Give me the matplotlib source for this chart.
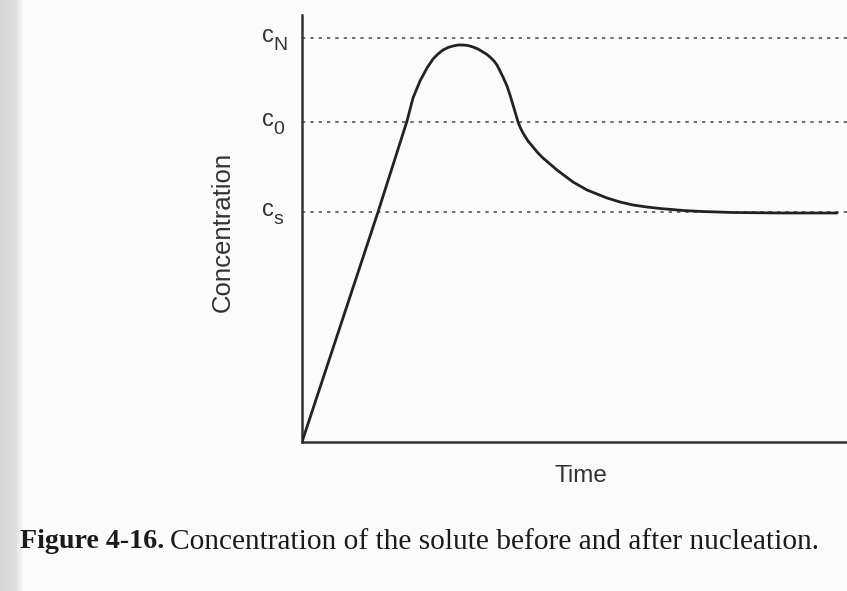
import matplotlib
matplotlib.use("Agg")
import matplotlib.pyplot as plt
import numpy as np

# Data (arbitrary units)
time = [0, 76, 98, 105, 111, 118, 125, 131, 136, 141, 146, 151, 156, 161, 166, 171,
        176, 181, 185, 188, 192, 195, 198, 201, 205, 208, 211, 214, 216, 218, 221,
        226, 231, 236, 241, 248, 255, 263, 271, 278, 285, 295, 305, 318, 331, 345,
        358, 370, 381, 400, 431, 480, 535]
conc = [0, 230, 299, 321, 344, 361, 374, 383, 388, 392, 394.5, 396, 397, 397, 396.5, 395,
        393, 390, 387.5, 385, 381, 377, 371, 365, 356, 347, 337, 327, 320, 315, 309,
        301, 295, 289, 284, 278, 272, 266, 260, 256, 252, 248, 244, 240, 237, 235,
        233.5, 232.5, 231.5, 230.5, 229.5, 229, 229]
level_subs = ["N", "0", "s"]
level_values = [404, 320, 230]

plt.rcParams['font.family'] = ['Liberation Sans', 'DejaVu Sans']

W, H = 847, 591
fig = plt.figure(figsize=(W / 100, H / 100), dpi=100)
fig.patch.set_facecolor('#fbfbfb')

# scanned page edge shading on the left
bg = fig.add_axes([0, 0, 24 / W, 1], zorder=-5)
grad = np.concatenate([np.linspace(0.84, 0.87, 16), np.linspace(0.90, 0.985, 8)])[None, :]
bg.imshow(grad, cmap='gray', vmin=0, vmax=1, aspect='auto', extent=(0, 1, 0, 1))
bg.axis('off')

ax = fig.add_axes([302 / W, 149 / H, 545 / W, 427 / H])
ax.set_facecolor('none')
ax.set_xlim(0, 545)
ax.set_ylim(0, 427)

for v, sub in zip(level_values, level_subs):
    ax.axhline(v, color='#555555', lw=1.2, linestyle=(0, (2, 3)), zorder=1)
    ax.text(-40, v - 4, 'c', fontsize=17, color='#333333', ha='left', va='baseline',
            clip_on=False)
    ax.text(-28.5, v - 12, sub, fontsize=14, color='#333333', ha='left', va='baseline',
            clip_on=False)

ax.plot(time, conc, color='#222222', lw=2.0, solid_joinstyle='round',
        solid_capstyle='round', zorder=3)

for s in ['top', 'right']:
    ax.spines[s].set_visible(False)
for s in ['left', 'bottom']:
    ax.spines[s].set_color('#333333')
    ax.spines[s].set_linewidth(1.8)
ax.set_xticks([])
ax.set_yticks([])

fig.text(223 / W, 1 - 232 / H, 'Concentration', fontsize=18.5, color='#333333',
         rotation=90, ha='center', va='center')
fig.text(581 / W, 1 - 476 / H, 'Time', fontsize=17.5, color='#333333',
         ha='center', va='center')

fig.text(20 / W, 1 - 542 / H, 'Figure 4-16.', fontsize=20.2, fontweight='bold',
         family=['Liberation Serif', 'DejaVu Serif'], color='#1a1a1a', va='center', ha='left')
fig.text(170 / W, 1 - 542 / H, 'Concentration of the solute before and after nucleation.',
         fontsize=21.2, family=['Liberation Serif', 'DejaVu Serif'], color='#1a1a1a',
         va='center', ha='left')

fig.savefig('out.png', dpi=100, facecolor=fig.get_facecolor())
